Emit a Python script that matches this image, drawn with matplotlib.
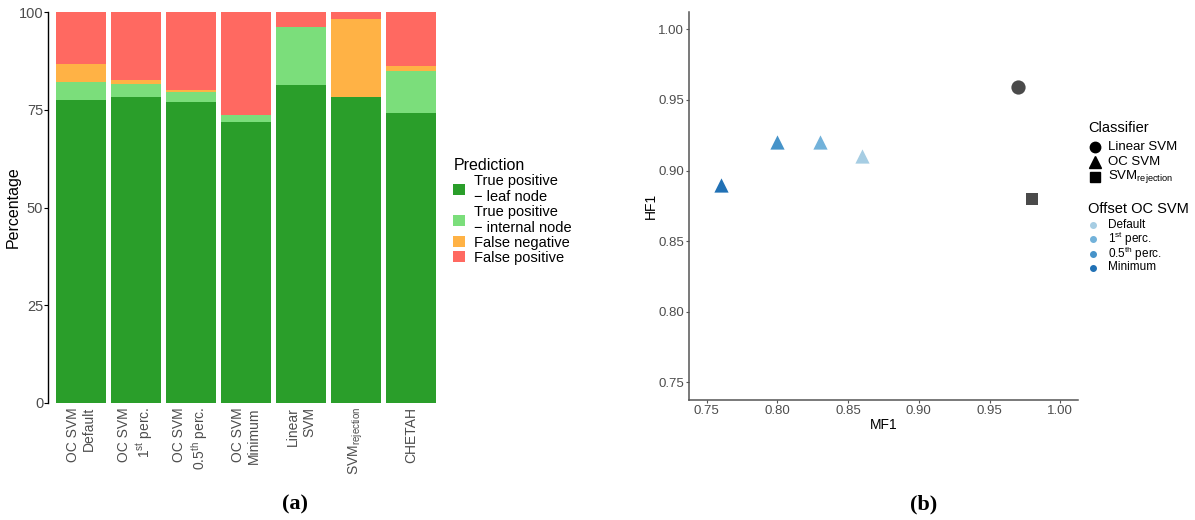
import numpy as np
import matplotlib.pyplot as plt
from matplotlib.patches import Patch
from matplotlib.lines import Line2D

plt.rcParams['font.family'] = ['Liberation Sans', 'DejaVu Sans']
plt.rcParams['mathtext.fontset'] = 'custom'
plt.rcParams['mathtext.rm'] = 'Liberation Sans'
plt.rcParams['mathtext.it'] = 'Liberation Sans:italic'
plt.rcParams['mathtext.bf'] = 'Liberation Sans:bold'

#Dades del gràfic de barres (percentatges)
methods = ['OC SVM\nDefault', 'OC SVM\n1$^{\\mathrm{st}}$ perc.', 'OC SVM\n0.5$^{\\mathrm{th}}$ perc.',
           'OC SVM\nMinimum', 'Linear\nSVM', 'SVM$_{\\mathrm{rejection}}$', 'CHETAH']
leaf = [77.5, 78.3, 77.0, 71.9, 81.4, 78.3, 74.2]
internal = [4.7, 3.4, 2.6, 1.8, 14.8, 0.0, 10.8]
fneg = [4.6, 1.0, 0.5, 0.0, 0.0, 19.9, 1.3]
fpos = [13.2, 17.3, 19.9, 26.3, 3.8, 1.8, 13.7]
pred_labels = ['True positive\n\u2212 leaf node', 'True positive\n\u2212 internal node', 'False negative', 'False positive']
pred_colors = ['#2a9e2a', '#7bde7b', '#ffb245', '#ff6961']

#Dades del gràfic de dispersió
mf1 = [0.97, 0.98, 0.86, 0.83, 0.80, 0.76]
hf1 = [0.959, 0.88, 0.91, 0.92, 0.92, 0.89]
classif = ['Linear SVM', 'SVM_rej', 'OC SVM', 'OC SVM', 'OC SVM', 'OC SVM']
offsets = [None, None, 'Default', '1st', '0.5th', 'Minimum']
classif_labels = ['Linear SVM', 'OC SVM', 'SVM$_{\\mathrm{rejection}}$']
offset_labels = ['Default', '1$^{\\mathrm{st}}$ perc.', '0.5$^{\\mathrm{th}}$ perc.', 'Minimum']
offset_colors = ['#a6cde3', '#72b2da', '#4693c9', '#2171b5']
offset_keys = ['Default', '1st', '0.5th', 'Minimum']
gray = '#4a4a4a'

W, H = 1195, 520
fig = plt.figure(figsize=(W/100, H/100), dpi=100)

def fx(px): return px/W
def fy(py): return 1 - py/H

#(a) barres apilades
ax1 = fig.add_axes([fx(48), fy(403), fx(444)-fx(48), fy(12)-fy(403)])
x = np.arange(1, len(methods)+1)
bottom = np.zeros(len(methods))
for vals, c in zip([leaf, internal, fneg, fpos], pred_colors):
  ax1.bar(x, vals, width=0.9, bottom=bottom, color=c, linewidth=0)
  bottom = bottom + np.array(vals)
ax1.set_xlim(0.4, 7.6)
ax1.set_ylim(0, 100)
ax1.set_yticks([0, 25, 50, 75, 100])
ax1.set_xticks(x)
ax1.set_xticklabels(methods, rotation=90, ha='center', va='top', multialignment='right',
                    fontsize=10, color='#4d4d4d')
ax1.tick_params(axis='x', length=0, pad=3)
ax1.tick_params(axis='y', length=3, width=0.8, colors='black', labelcolor='#4d4d4d', labelsize=10.5, pad=0.5)
for s in ['top', 'right', 'bottom']:
  ax1.spines[s].set_visible(False)
ax1.spines['left'].set_color('black')
ax1.spines['left'].set_linewidth(1)
ax1.set_ylabel('Percentage', fontsize=11.5)
ax1.yaxis.set_label_coords((21-48)/396, 0.5)

handles = [Patch(facecolor=c, edgecolor='none') for c in pred_colors]
leg1 = fig.legend(handles, pred_labels, title='Prediction', loc='upper left',
                  bbox_to_anchor=(fx(446), fy(151)), bbox_transform=fig.transFigure,
                  frameon=False, fontsize=10.5, title_fontsize=11.5, handlelength=0.8,
                  handleheight=0.8, handletextpad=0.6, labelspacing=0.05, borderpad=0,
                  alignment='left')

#(b) dispersió MF1 vs HF1
ax2 = fig.add_axes([fx(689), fy(400), fx(1078)-fx(689), fy(11.7)-fy(400)])
for xm, ym, c, o in zip(mf1, hf1, classif, offsets):
  if c == 'Linear SVM':
    ax2.scatter(xm, ym, marker='o', s=105, color=gray, linewidths=0)
  elif c == 'SVM_rej':
    ax2.scatter(xm, ym, marker='s', s=72, color=gray, linewidths=0)
  else:
    ax2.scatter(xm, ym, marker='^', s=105, color=offset_colors[offset_keys.index(o)], linewidths=0)
ax2.set_xlim(0.7375, 1.0125)
ax2.set_ylim(0.7375, 1.0125)
ax2.set_xticks([0.75, 0.80, 0.85, 0.90, 0.95, 1.00])
ax2.set_yticks([0.75, 0.80, 0.85, 0.90, 0.95, 1.00])
ax2.set_xticklabels(['%.2f' % v for v in ax2.get_xticks()])
ax2.set_yticklabels(['%.2f' % v for v in ax2.get_yticks()])
ax2.tick_params(length=2.5, width=0.8, colors='#555555', labelcolor='#4d4d4d', labelsize=9.5, pad=1)
for s in ['top', 'right']:
  ax2.spines[s].set_visible(False)
for s in ['left', 'bottom']:
  ax2.spines[s].set_color('#555555')
  ax2.spines[s].set_linewidth(1.1)
ax2.set_xlabel('MF1', fontsize=10, labelpad=1)
ax2.set_ylabel('HF1', fontsize=10)
ax2.yaxis.set_label_coords((658-689)/389, 0.5)

#Llegendes del gràfic (b), col·locades a mà
fig.text(fx(1088), fy(128), 'Classifier', fontsize=10.5, va='center', ha='left')
cl_marks = [('o', 7.5), ('^', 8), ('s', 6.5)]
for (m, ms), lab, py in zip(cl_marks, classif_labels, [147, 162, 177]):
  fig.add_artist(Line2D([fx(1095)], [fy(py)], marker=m, markersize=ms, color='black', ls='',
                        transform=fig.transFigure))
  fig.text(fx(1108), fy(py), lab, fontsize=9.5, va='center', ha='left')
fig.text(fx(1088), fy(209), 'Offset OC SVM', fontsize=10.5, va='center', ha='left')
for c, lab, py in zip(offset_colors, offset_labels, [225, 239, 253.5, 267.5]):
  fig.add_artist(Line2D([fx(1093)], [fy(py)], marker='o', markersize=4, color=c, ls='',
                        transform=fig.transFigure))
  fig.text(fx(1108), fy(py), lab, fontsize=8.5, va='center', ha='left')

fig.text(fx(295), fy(509), '(a)', fontsize=16, fontweight='bold', family='Liberation Serif', ha='center')
fig.text(fx(924), fy(509), '(b)', fontsize=16, fontweight='bold', family='Liberation Serif', ha='center')

plt.savefig('out.png', dpi=100)
